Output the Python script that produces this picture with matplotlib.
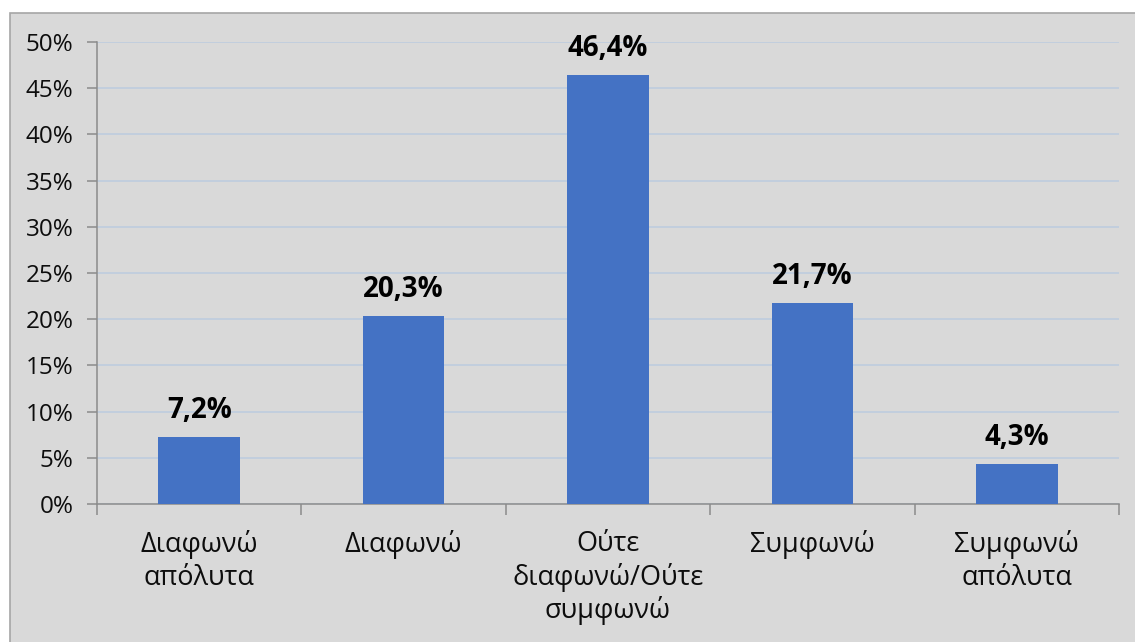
import matplotlib
matplotlib.use("Agg")
import matplotlib.pyplot as plt
from matplotlib.patches import Rectangle

plt.rcParams['font.family'] = ['Open Sans', 'Noto Sans', 'DejaVu Sans']

categories = ["Διαφωνώ\nαπόλυτα", "Διαφωνώ", "Ούτε\nδιαφωνώ/Ούτε\nσυμφωνώ", "Συμφωνώ", "Συμφωνώ\nαπόλυτα"]
values = [7.2, 20.3, 46.4, 21.7, 4.3]
y_ticks = [0, 5, 10, 15, 20, 25, 30, 35, 40, 45, 50]
y_tick_labels = [f"{t}%" for t in y_ticks]

W, H = 1135, 642
fig = plt.figure(figsize=(W / 100, H / 100), dpi=100)
fig.patch.set_facecolor("white")

# grey chart panel with a thin border (runs off the right and bottom edges)
top = 1 - 12.5 / H
panel = Rectangle((9.5 / W, -0.2), 1.2, top + 0.2, transform=fig.transFigure,
                  facecolor="#D9D9D9", edgecolor="#A6A6A6", linewidth=1.2, zorder=-5)
fig.patches.append(panel)

ax = fig.add_axes([97 / W, 1 - 504 / H, (1119 - 97) / W, (504 - 42) / H])
ax.patch.set_visible(False)

x = list(range(len(categories)))
ax.bar(x, values, width=0.4, color="#4472C4", zorder=3)

ax.set_xlim(-0.5, len(categories) - 0.5)
ax.set_ylim(0, 50)
ax.set_yticks(y_ticks)
ax.set_yticklabels(y_tick_labels, fontsize=17.5, color="#0d0d0d")
ax.yaxis.grid(True, color="#BCCBDF", linewidth=1.1, zorder=1)
ax.set_axisbelow(True)

ax.set_xticks(x)
ax.set_xticklabels(categories, fontsize=19.5, color="#0d0d0d", linespacing=1.2)
ax.tick_params(axis="x", length=0, pad=19)
ax.set_xticks([i + 0.5 for i in range(-1, len(categories))], minor=True)
ax.tick_params(axis="x", which="minor", length=8, color="#8C8C8C", width=1.1)
ax.tick_params(axis="y", length=7, color="#8C8C8C", width=1.1, pad=10)

for s in ["top", "right"]:
    ax.spines[s].set_visible(False)
for s in ["left", "bottom"]:
    ax.spines[s].set_color("#8C8C8C")
    ax.spines[s].set_linewidth(1.1)

for xi, v in zip(x, values):
    ax.annotate(f"{v:.1f}%".replace(".", ","), (xi, v), xytext=(0, 9),
                textcoords="offset points", ha="center", va="bottom",
                fontsize=20, fontweight="bold", color="black")

fig.savefig("out.png", dpi=100)
